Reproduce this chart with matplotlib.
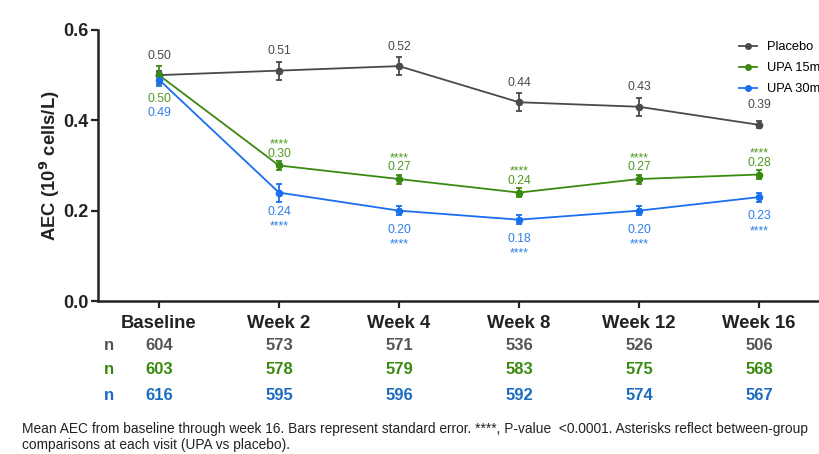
import matplotlib
matplotlib.use("agg")
from matplotlib import pyplot as plt

plt.rcParams["font.family"] = ["Liberation Sans", "DejaVu Sans"]

visits = ["Baseline", "Week 2", "Week 4", "Week 8", "Week 12", "Week 16"]

placebo = [0.50, 0.51, 0.52, 0.44, 0.43, 0.39]
placebo_se = [0.01, 0.02, 0.02, 0.02, 0.02, 0.008]
upa15 = [0.50, 0.30, 0.27, 0.24, 0.27, 0.28]
upa15_se = [0.02, 0.01, 0.01, 0.01, 0.01, 0.01]
upa30 = [0.49, 0.24, 0.20, 0.18, 0.20, 0.23]
upa30_se = [0.015, 0.02, 0.01, 0.01, 0.01, 0.01]

n_placebo = [604, 573, 571, 536, 526, 506]
n_upa15 = [603, 578, 579, 583, 575, 568]
n_upa30 = [616, 595, 596, 592, 574, 567]

c_pbo = "#4a4a4a"
c_15 = "#3a8a10"
c_30 = "#1a6ff0"
t_15 = "#4f9a22"
t_30 = "#2f7ee8"
n_30 = "#1b6cc0"

fig = plt.figure(figsize=(8.2, 4.54), dpi=100)
ax = fig.add_axes([0.1195, 0.337, 0.8805, 0.597])

x = list(range(len(visits)))
lines = []
for y, se, c, lab in [(placebo, placebo_se, c_pbo, "Placebo"),
                      (upa15, upa15_se, c_15, "UPA 15mg"),
                      (upa30, upa30_se, c_30, "UPA 30mg")]:
    ax.errorbar(x, y, yerr=se, color=c, lw=1.3, marker="o", ms=4.5,
                capsize=2.5, elinewidth=1.3, capthick=1.3)
    lines.append(plt.Line2D([], [], color=c, lw=1.3, marker="o", ms=4, label=lab))

# value labels (asterisks = P < 0.0001 vs placebo)
fs_val = 8.8
for i in x:
    ax.annotate("%.2f" % placebo[i], (i, placebo[i]), xytext=(0, 14),
                textcoords="offset points", ha="center", va="center",
                fontsize=fs_val, color=c_pbo)
    if i == 0:
        ax.annotate("%.2f" % upa15[i], (i, upa15[i]), xytext=(0, -17),
                    textcoords="offset points", ha="center", va="center",
                    fontsize=fs_val, color=t_15)
        ax.annotate("%.2f" % upa30[i], (i, upa30[i]), xytext=(0, -24),
                    textcoords="offset points", ha="center", va="center",
                    fontsize=fs_val, color=t_30)
    else:
        ax.annotate("****\n%.2f" % upa15[i], (i, upa15[i]), xytext=(0, 4.3),
                    textcoords="offset points", ha="center", va="bottom",
                    fontsize=fs_val, color=t_15, linespacing=0.65)
        ax.annotate("%.2f\n****" % upa30[i], (i, upa30[i]), xytext=(0, -9.5),
                    textcoords="offset points", ha="center", va="top",
                    fontsize=fs_val, color=t_30, linespacing=1.3)

ax.set_xlim(-0.508, 5.508)
ax.set_ylim(0, 0.6)
ax.set_yticks([0.0, 0.2, 0.4, 0.6])
ax.set_yticklabels(["0.0", "0.2", "0.4", "0.6"], fontsize=13, fontweight="bold",
                   color="#222222")
ax.set_xticks(x)
ax.set_xticklabels(visits, fontsize=13.3, fontweight="bold", color="#222222")
ax.tick_params(axis="both", width=1.6, length=5, color="#222222")
ax.tick_params(axis="x", pad=5)
ax.tick_params(axis="y", pad=2)
for s in ["top", "right"]:
    ax.spines[s].set_visible(False)
for s in ["left", "bottom"]:
    ax.spines[s].set_linewidth(1.8)
    ax.spines[s].set_color("#222222")
ax.set_ylabel("AEC (10$^{\\mathbf{9}}$ cells/L)", fontsize=13.3, fontweight="bold",
              color="#222222", labelpad=1)

# n rows under the axis
rows = [(n_placebo, "#555555", 346), (n_upa15, c_15, 370), (n_upa30, n_30, 395)]
for vals, c, ypx in rows:
    yf = 1 - ypx / 454
    fig.text(104 / 820, yf, "n", fontsize=12, fontweight="bold", color=c,
             ha="left", va="center")
    for i, v in enumerate(vals):
        xd = ax.transData.transform((i, 0))[0]
        fig.text(xd / 820, yf, str(v), fontsize=12, fontweight="bold", color=c,
                 ha="center", va="center")

fig.legend(handles=lines, loc="upper left", bbox_to_anchor=(0.887, 0.935),
           frameon=False, fontsize=9.3, handlelength=1.4, labelspacing=0.7,
           handletextpad=0.8)

fig.text(22 / 820, 1 - 437 / 454,
         "Mean AEC from baseline through week 16. Bars represent standard error. "
         "****, P-value  <0.0001. Asterisks reflect between-group\n"
         "comparisons at each visit (UPA vs placebo).",
         fontsize=9.9, color="#222222", ha="left", va="center", linespacing=1.15)

fig.savefig("out.png")
